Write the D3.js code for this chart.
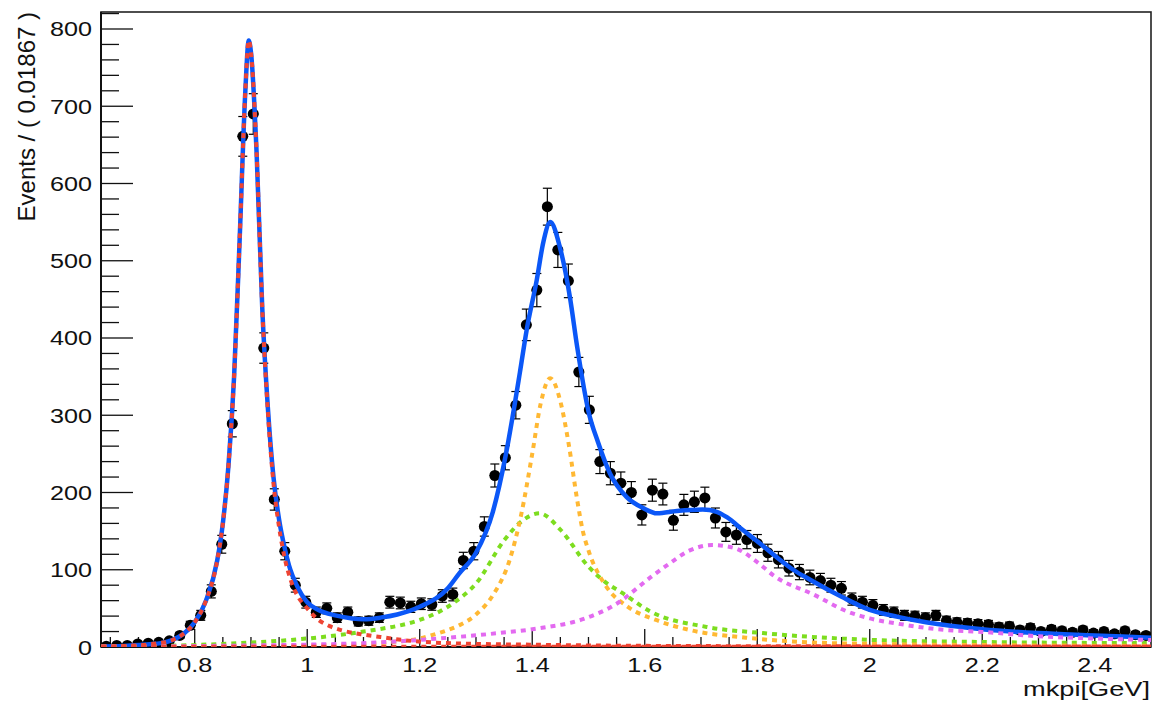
<!DOCTYPE html>
<html>
<head>
<meta charset="utf-8">
<script src="https://cdn.jsdelivr.net/npm/d3@7/dist/d3.min.js"></script>
<style>
  html, body { margin: 0; padding: 0; background: #fff; }
  svg text { font-family: "Liberation Sans", Arial, Helvetica, sans-serif; fill: #111; }
</style>
</head>
<body>
<svg id="chart" width="1161" height="708"></svg>
<script>
// ---------------- DATA ----------------
const xMin = 0.6334, xMax = 2.5, binWidth = 0.01867;
const counts = [1,2,2,4,5,6,8,15,28,41,72,133,289,661,690,387,191,124,80,58,
  45,50,38,45,33,34,38,58,57,52,56,55,66,68,112,124,156,222,245,313,
  417,462,570,514,474,356,307,240,225,212,200,171,203,198,164,184,188,193,167,149,
  145,139,134,122,113,102,97,90,86,80,76,62,58,54,48,45,41,40,38,41,
  34,32,31,30,29,26,27,22,25,20,23,21,19,22,18,20,17,21,16,15];

const totalX = [0.634,0.66,0.68,0.70,0.72,0.74,0.76,0.78,0.80,0.82,0.84,0.85,0.86,0.87,0.88,0.89,0.896,0.90,0.91,0.92,0.93,0.94,0.95,0.96,0.97,0.98,0.99,1.00,1.02,1.05,1.08,1.10,1.13,1.16,1.20,1.25,1.27,1.30,1.33,1.352,1.378,1.39,1.408,1.42,1.432,1.449,1.467,1.48,1.50,1.517,1.538,1.568,1.597,1.622,1.657,1.703,1.728,1.746,1.775,1.805,1.835,1.864,1.894,1.95,2.0,2.05,2.1,2.2,2.3,2.4,2.5];
const totalY = [0.5,1,1.5,2.5,3.5,5,9,17,32,60,112,160,235,350,530,720,785,770,640,440,310,220,165,128,100,82,68,58,48,41,37,36,38,42,52,76,95,122,175,245,355,410,475,525,550,518,453,388,305,265,225,194,180,173,176,178,175,168,151,134,116,100,87,65,48,39,32,23,18,15,12];

const kstX = [0.634,0.68,0.72,0.76,0.78,0.80,0.82,0.84,0.85,0.86,0.87,0.88,0.89,0.896,0.90,0.91,0.92,0.93,0.94,0.95,0.96,0.97,0.98,1.00,1.02,1.04,1.07,1.10,1.13,1.17,1.22,1.3,1.4,1.5,1.6,1.8,2.0,2.2,2.5];
const kstY = [0.5,1.5,3.5,9,17,32,60,112,160,235,350,530,720,785,770,640,440,305,212,155,115,88,70,50,35,27,20,16,13,9,6,4,3,2,1.5,1,0.8,0.6,0.5];

const flatX = [0.634, 2.5];
const flatY = [0.3, 0.3];

const greenX = [0.634,0.75,0.85,0.95,1.0,1.04,1.1,1.135,1.165,1.2,1.26,1.3,1.35,1.38,1.413,1.45,1.5,1.53,1.56,1.61,1.71,1.81,2.01,2.2,2.5];
const greenY = [0.5,1.5,4,8,11,14,20,24,28,35,57,82,138,162,173,152,104,84,70,46,26,18,9,6.5,5];

const orangeX = [0.634,0.9,1.0,1.1,1.15,1.2,1.22,1.25,1.27,1.3,1.33,1.36,1.38,1.40,1.415,1.432,1.45,1.465,1.48,1.49,1.5,1.53,1.57,1.62,1.68,1.78,1.91,2.0,2.2,2.5];
const orangeY = [0.2,1,2,4,6.5,11,15,22,28,42,67,113,170,250,315,348,318,262,190,150,125,80,52,35,22,12,5.5,4,2.5,1.5];

const magentaX = [0.634,0.8,0.9,1.0,1.13,1.25,1.34,1.41,1.49,1.55,1.61,1.64,1.68,1.72,1.76,1.80,1.83,1.9,1.96,2.0,2.06,2.12,2.2,2.31,2.4,2.5];
const magentaY = [0.5,1.2,2,3,6,12,18,24,36,56,90,106,125,132,128,110,92,68,46,37,29,23,19.5,13.5,11,9];

const xTickLabels = ["0.8","1","1.2","1.4","1.6","1.8","2","2.2","2.4"];
const xTickValues = [0.8,1.0,1.2,1.4,1.6,1.8,2.0,2.2,2.4];
const yTickValues = [0,100,200,300,400,500,600,700,800];
const yTickLabels = ["0","100","200","300","400","500","600","700","800"];

// ---------------- LAYOUT ----------------
const L = 101, R = 1151, T = 12, B = 647;
const svg = d3.select("#chart");
const x = d3.scaleLinear().domain([xMin, xMax]).range([L, R]);
const y = d3.scaleLinear().domain([0, 822]).range([B, T]);

svg.append("defs").append("clipPath").attr("id", "clip")
  .append("rect").attr("x", L).attr("y", T).attr("width", R - L).attr("height", B - T);

// frame
svg.append("rect").attr("x", L).attr("y", T).attr("width", R - L).attr("height", B - T)
  .attr("fill", "none").attr("stroke", "#222").attr("stroke-width", 1.6);

// y ticks
const yMinor = d3.range(0, 821, 20);
svg.append("g").selectAll("line").data(yMinor).join("line")
  .attr("x1", L).attr("x2", d => L + (d % 100 === 0 ? 32 : 18))
  .attr("y1", d => y(d)).attr("y2", d => y(d))
  .attr("stroke", "#111").attr("stroke-width", 1.3);

// x ticks
const xMinor = d3.range(13, 50).map(k => k * 0.05);
svg.append("g").selectAll("line").data(xMinor).join("line")
  .attr("x1", d => x(d)).attr("x2", d => x(d))
  .attr("y1", B).attr("y2", (d, i) => B - ((i + 13) % 4 === 0 ? 18 : 10))
  .attr("stroke", "#111").attr("stroke-width", 1.3);

// axis lines
svg.append("line").attr("x1", L).attr("x2", L).attr("y1", T).attr("y2", B).attr("stroke", "#111").attr("stroke-width", 2);
svg.append("line").attr("x1", L).attr("x2", R).attr("y1", B).attr("y2", B).attr("stroke", "#111").attr("stroke-width", 2);

// y tick labels
svg.append("g").selectAll("text").data(yTickValues).join("text")
  .attr("transform", d => `translate(92,${y(d) + 7.5}) scale(1.2,1)`)
  .attr("text-anchor", "end").attr("font-size", 21)
  .text((d, i) => yTickLabels[i]);

// x tick labels
svg.append("g").selectAll("text").data(xTickValues).join("text")
  .attr("transform", d => `translate(${x(d)},672) scale(1.2,1)`)
  .attr("text-anchor", "middle").attr("font-size", 21)
  .text((d, i) => xTickLabels[i]);

// titles
svg.append("text").attr("x", 1150).attr("y", 696).attr("text-anchor", "end")
  .attr("font-size", 20).attr("textLength", 127).attr("lengthAdjust", "spacingAndGlyphs")
  .text("mkpi[GeV]");
svg.append("text").attr("transform", "translate(35,12) rotate(-90)").attr("text-anchor", "end")
  .attr("font-size", 24).text("Events / ( 0.01867 )");

// ---------------- DATA POINTS ----------------
const pts = counts.map((c, i) => ({ xc: xMin + (i + 0.5) * binWidth, v: c, e: Math.sqrt(c) }));
const gData = svg.append("g").attr("clip-path", "url(#clip)");
gData.selectAll("line.ev").data(pts).join("line").attr("class", "ev")
  .attr("x1", d => x(d.xc)).attr("x2", d => x(d.xc))
  .attr("y1", d => y(d.v - d.e)).attr("y2", d => y(d.v + d.e))
  .attr("stroke", "#000").attr("stroke-width", 1.2);
gData.selectAll("line.eh").data(pts).join("line").attr("class", "eh")
  .attr("x1", d => x(d.xc - binWidth / 2)).attr("x2", d => x(d.xc + binWidth / 2))
  .attr("y1", d => y(d.v)).attr("y2", d => y(d.v))
  .attr("stroke", "#000").attr("stroke-width", 1.2);
["top", "bot"].forEach(k => {
  gData.selectAll("line.cap" + k).data(pts).join("line").attr("class", "cap" + k)
    .attr("x1", d => x(d.xc) - 4.5).attr("x2", d => x(d.xc) + 4.5)
    .attr("y1", d => y(k === "top" ? d.v + d.e : d.v - d.e))
    .attr("y2", d => y(k === "top" ? d.v + d.e : d.v - d.e))
    .attr("stroke", "#000").attr("stroke-width", 1.2);
});
gData.selectAll("circle").data(pts).join("circle")
  .attr("cx", d => x(d.xc)).attr("cy", d => y(d.v)).attr("r", 5.5).attr("fill", "#000");

// ---------------- CURVES ----------------
const line = d3.line().x(d => x(d[0])).y(d => y(d[1])).curve(d3.curveMonotoneX);
const gCurves = svg.append("g").attr("clip-path", "url(#clip)");
function drawCurve(xs, ys, color, width, dash) {
  gCurves.append("path").datum(xs.map((v, i) => [v, ys[i]]))
    .attr("d", line).attr("fill", "none").attr("stroke", color)
    .attr("stroke-width", width).attr("stroke-dasharray", dash || null)
    .attr("stroke-linejoin", "round");
}
drawCurve(totalX, totalY, "#0b57f7", 4.5);
drawCurve(greenX, greenY, "#7ddd1f", 4, "5,5");
drawCurve(orangeX, orangeY, "#ffb833", 4, "5,5");
drawCurve(magentaX, magentaY, "#e36af0", 4, "5,5");
drawCurve(kstX, kstY, "#ee4433", 4, "5,5");
drawCurve(flatX, flatY, "#ee4433", 4, "5,5");
</script>
</body>
</html>
